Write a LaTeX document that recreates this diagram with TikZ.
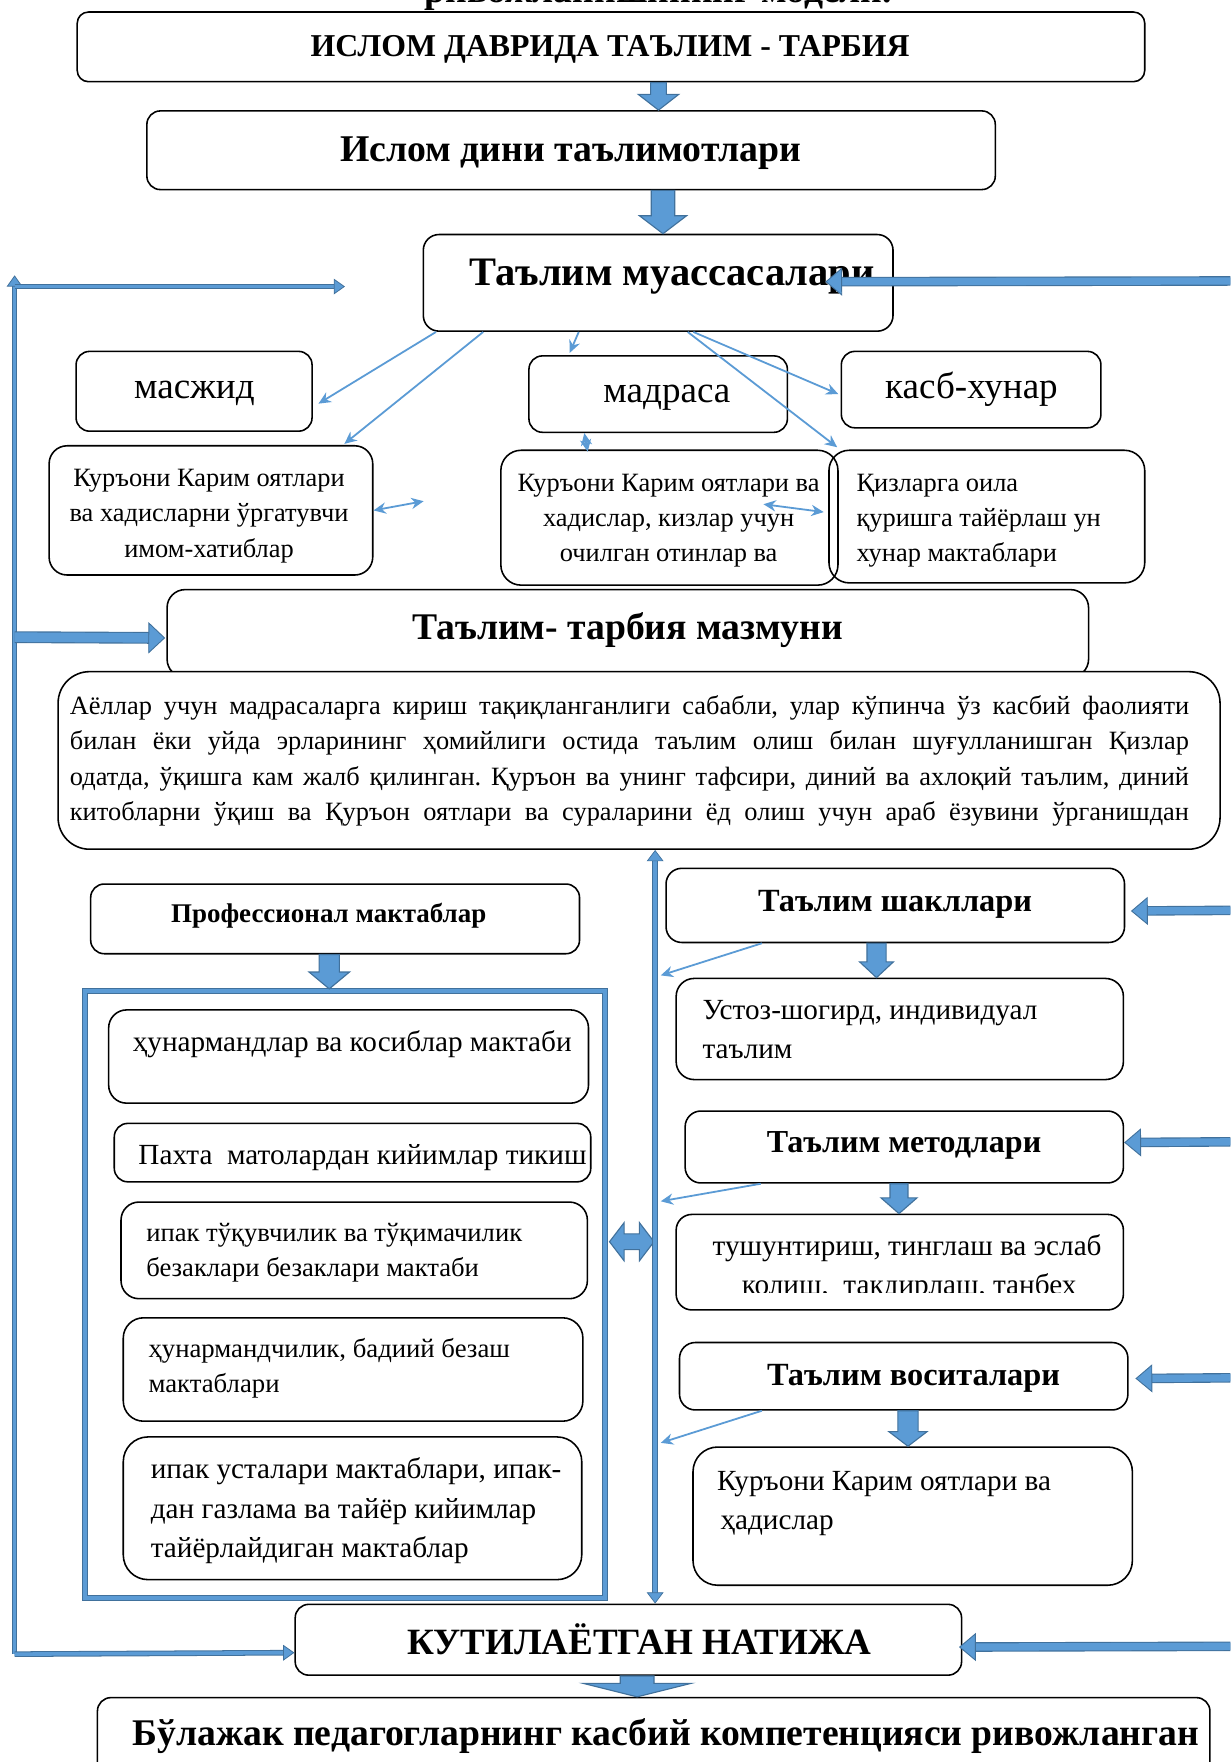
\documentclass[tikz,border=0pt]{standalone}
\usepackage{fontspec}
\setmainfont{Liberation Serif}
\usetikzlibrary{arrows.meta,calc}
\definecolor{lb}{HTML}{5B9BD5}
\definecolor{db}{HTML}{41719C}
\newcommand\setfs[2]{\fontsize{#1}{#2}\selectfont}
\newcommand\blkdown[5]{%
  \draw[blk] let \p1=#1, \p2=#2 in
    (\x1-#3,\y1) -- (\x1+#3,\y1) -- (\x1+#3,\y2+#5) -- (\x1+#4,\y2+#5) -- (\x1,\y2)
    -- (\x1-#4,\y2+#5) -- (\x1-#3,\y2+#5) -- cycle;}
\newcommand\blkdbl[5]{%
  \draw[blk] let \p1=#1, \p2=#2 in
    (\x1,\y1) -- (\x1+#5,\y1+#4) -- (\x1+#5,\y1+#3) -- (\x2-#5,\y1+#3) -- (\x2-#5,\y1+#4)
    -- (\x2,\y1) -- (\x2-#5,\y1-#4) -- (\x2-#5,\y1-#3) -- (\x1+#5,\y1-#3) -- (\x1+#5,\y1-#4) -- cycle;}
\begin{document}
\begin{tikzpicture}[x=1pt,y=-1pt,
  box/.style={draw, line width=1.4pt, rounded corners=#1, fill=white, inner sep=0pt, anchor=north west},
  box/.default=12pt,
  frame/.style={draw=lb, line width=3.4pt, preaction={draw=db, line width=5.4pt}, inner sep=0pt, anchor=north west},
  tx/.style={inner sep=0pt, anchor=base},
  txc/.style={inner sep=0pt, anchor=base, align=center},
  txl/.style={inner sep=0pt, anchor=base west, align=left},
  blk/.style={fill=lb, draw=db, line width=1pt, line join=miter},
  thin/.style={draw=lb, line width=1.6pt, -{Stealth[length=11pt,width=10pt]}},
  thinboth/.style={draw=lb, line width=1.6pt, {Stealth[length=11pt,width=10pt]}-{Stealth[length=11pt,width=10pt]}},
  lframe/.style={draw=lb, line width=3.2pt, preaction={draw=db, line width=5pt, arrows=-, shorten >=6pt},
     -{Triangle[width=14pt,length=10pt,color=db,fill=lb,line width=0.7pt]}},
  lbig/.style={draw=lb, line width=8.5pt, preaction={draw=db, line width=10.5pt, arrows=-, shorten >=8pt},
     -{Triangle[width=28pt,length=15pt,color=db,fill=lb,line width=0.8pt]}},
  rbig/.style={draw=lb, line width=6.5pt, preaction={draw=db, line width=8.5pt, arrows=-, shorten >=8pt},
     -{Triangle[width=25pt,length=15pt,color=db,fill=lb,line width=0.8pt]}},
  cvert/.style={draw=lb, line width=4pt, preaction={draw=db, line width=5.6pt, arrows=-, shorten >=6pt, shorten <=6pt},
     {Triangle[width=15pt,length=10pt,color=db,fill=lb,line width=0.6pt]}-{Triangle[width=15pt,length=10pt,color=db,fill=lb,line width=0.6pt]}},
  hb/.style={font=\bfseries\setfs{#1}{#1}},
  hr/.style={font=\setfs{#1}{#1}}
]
\useasboundingbox (0,0) rectangle (1095,1568);
\clip (0,0) rectangle (1095,1568);

% ---------- coordinates ----------
\coordinate (xAB) at (586,0);
\coordinate (xBC) at (590,0);
\coordinate (xPF) at (293,0);
\coordinate (xSU) at (780,0);
\coordinate (xMT) at (800,0);
\coordinate (xVQ) at (808,0);
\coordinate (xKL) at (567,0);
\coordinate (vx) at (583,0);
\coordinate (yDB) at (0,1105);
\coordinate (LT) at (13,245);
\coordinate (LH) at (13,255);
\coordinate (LHe) at (307,255);
\coordinate (LM) at (13,567);
\coordinate (LB) at (13,1472);
\coordinate (rC) at (1112,250);
\coordinate (rS) at (1112,810);
\coordinate (rM) at (1112,1016);
\coordinate (rV) at (1112,1226);
\coordinate (rK) at (1112,1465);
\coordinate (q1free) at (377,446);

% ---------- boxes ----------
\node[box=10pt, minimum width=950pt, minimum height=62pt] (A) at (68,10) {};
\node[box, minimum width=755pt, minimum height=70pt] (B) at (130,98) {};
\node[box=14pt, minimum width=418pt, minimum height=86pt] (C) at (376,208) {};
\node[box, minimum width=210pt, minimum height=71pt] (Mas) at (67,312) {};
\node[box, minimum width=230pt, minimum height=68pt] (Mad) at (470,316) {};
\node[box, minimum width=231pt, minimum height=68pt] (Kasb) at (748,312) {};
\node[box=16pt, minimum width=288pt, minimum height=115pt] (Q1) at (43,396) {};
\node[box=18pt, minimum width=281pt, minimum height=118pt] (Qiz) at (737,400) {};
\node[box=18pt, fill=none, minimum width=300pt, minimum height=120pt] (Q2) at (445,400) {};
\node[box=16pt, minimum width=820pt, minimum height=78pt] (D) at (148,524) {};
\node[box=28pt, minimum width=1034pt, minimum height=158pt] (E) at (51,597) {};
\node[box, minimum width=435pt, minimum height=62pt] (Prof) at (80,786) {};
\node[frame, minimum width=463pt, minimum height=540pt] (F) at (74,880) {};
\node[box=16pt, minimum width=427pt, minimum height=83pt] (I1) at (96,898) {};
\node[box=12pt, minimum width=424pt, minimum height=52pt] (I2) at (101,999) {};
\node[box=16pt, minimum width=415pt, minimum height=86pt] (I3) at (107,1069) {};
\node[box=18pt, minimum width=409pt, minimum height=92pt] (I4) at (109,1172) {};
\node[box=22pt, minimum width=408pt, minimum height=127pt] (I5) at (109,1278) {};
\node[box=14pt, minimum width=408pt, minimum height=66pt] (Shakl) at (592,772) {};
\node[box=16pt, minimum width=398pt, minimum height=90pt] (Ust) at (601,870) {};
\node[box=14pt, minimum width=390pt, minimum height=64pt] (Met) at (609,988) {};
\node[box=14pt, minimum width=398pt, minimum height=85pt] (Tush) at (601,1080) {};
\node[box=14pt, minimum width=399pt, minimum height=60pt] (Vos) at (604,1194) {};
\node[box=22pt, minimum width=391pt, minimum height=123pt] (Q3) at (616,1287) {};
\node[box, minimum width=593pt, minimum height=63pt] (K) at (262,1427) {};
\node[box, minimum width=990pt, minimum height=80pt] (Last) at (86,1510) {};

% ---------- texts (multi-line nodes: base = last line) ----------
\node[tx, hb=33.5] (T0) at (586,2) {ривожланишининг модели.};
\node[tx, hb=28.3] (tA) at (543,50) {ИСЛОМ ДАВРИДА ТАЪЛИМ - ТАРБИЯ};
\node[tx, hb=33.6] (tB) at (508,144) {Ислом дини таълимотлари};
\node[tx, hb=36] (tC) at (598,254) {Таълим муассасалари};
\node[tx, hr=33] (tMas) at (173,355) {масжид};
\node[tx, hr=33] (tMad) at (593.5,358) {мадраса};
\node[tx, hr=33] (tKasb) at (864.5,355) {касб-хунар};
\node[txc, font=\setfs{23.5}{31.5}] (tQ1) at (186,496) {Куръони Карим оятлари\\ва хадисларни ўргатувчи\\имом-хатиблар};
\node[txc, font=\setfs{23.5}{31.5}] (tQ2) at (595,500) {Куръони Карим оятлари ва\\хадислар, кизлар учун\\очилган отинлар ва};
\node[txl, font=\setfs{23.5}{31.5}] (tQiz) at (762,500) {Қизларга оила\\қуришга тайёрлаш ун\\хунар мактаблари};
\node[tx, hb=33.5] (tD) at (558.5,569) {Таълим- тарбия мазмуни};
\node[txl, font=\setfs{23.5}{31.3}\frenchspacing] (tE) at (62,730) {%
\makebox[996pt][s]{Аёллар учун мадрасаларга кириш тақиқланганлиги сабабли, улар кўпинча ўз касбий фаолияти}\\
\makebox[996pt][s]{билан ёки уйда эрларининг ҳомийлиги остида таълим олиш билан шуғулланишган Қизлар}\\
\makebox[996pt][s]{одатда, ўқишга кам жалб қилинган. Қуръон ва унинг тафсири, диний ва ахлоқий таълим, диний}\\
\makebox[996pt][s]{китобларни ўқиш ва Қуръон оятлари ва сураларини ёд олиш учун араб ёзувини ўрганишдан}};
\node[tx, hb=24] (tProf) at (292.5,821) {Профессионал мактаблар};
\node[txl, font=\setfs{26}{35}] (tI1) at (118,936) {ҳунармандлар ва косиблар мактаби};
\node[txl, font=\setfs{26}{35}] (tI2) at (123,1036) {Пахта\ \ матолардан кийимлар тикиш};
\node[txl, font=\setfs{23.7}{31}] (tI3) at (130,1136) {ипак тўқувчилик ва тўқимачилик\\безаклари безаклари мактаби};
\node[txl, font=\setfs{23.8}{31}] (tI4) at (132,1239) {ҳунармандчилик, бадиий безаш\\мактаблари};
\node[txl, font=\setfs{26}{35}] (tI5) at (134,1386) {ипак усталари мактаблари, ипак-\\дан газлама ва тайёр кийимлар\\тайёрлайдиган мактаблар};
\node[tx, hb=28.8] (tShakl) at (796.5,811) {Таълим шакллари};
\node[txl, font=\setfs{26}{35}] (tUst) at (625,942) {Устоз-шогирд, индивидуал\\таълим};
\node[tx, hb=28.5] (tMet) at (804.5,1026) {Таълим методлари};
\begin{scope}
\clip (601,1080) rectangle (999,1150);
\node[txl, font=\setfs{26}{35}] (tTush) at (634,1152) {тушунтириш, тинглаш ва эслаб\\\hspace*{26pt}колиш,\ \ такдирлаш, танбех};
\end{scope}
\node[tx, hb=28.8] (tVos) at (813,1233) {Таълим воситалари};
\node[txl, font=\setfs{26}{35}] (tQ3) at (638,1361) {Куръони Карим оятлари ва\\\hspace*{3pt}ҳадислар};
\node[tx, hb=33] (tK) at (569,1472) {КУТИЛАЁТГАН НАТИЖА};
\node[tx, hb=33.5] (tLast) at (592.5,1553) {Бўлажак педагогларнинг касбий компетенцияси ривожланган};

% ---------- block arrows ----------
\blkdown{(A.south -| xAB)}{(B.north -| xAB)}{7pt}{18pt}{14pt}
\blkdown{(B.south -| xBC)}{(C.north -| xBC)}{10.5pt}{21pt}{16pt}
\blkdown{(Prof.south -| xPF)}{(F.north -| xPF)}{9pt}{18pt}{15pt}
\blkdown{(Shakl.south -| xSU)}{(Ust.north -| xSU)}{8.5pt}{15pt}{14pt}
\blkdown{(Met.south -| xMT)}{(Tush.north -| xMT)}{8pt}{16pt}{14pt}
\blkdown{(Vos.south -| xVQ)}{(Q3.north -| xVQ)}{9pt}{17pt}{13pt}
\blkdown{(K.south -| xKL)}{(Last.north -| xKL)}{15pt}{48pt}{12pt}
\blkdbl{($(F.east |- yDB)+(2,0)$)}{($(vx |- yDB)+(-1,0)$)}{7pt}{17pt}{13pt}

% ---------- thick line arrows ----------
\draw[lframe] (LB) -- (LT);
\draw[lframe] (LH) -- (LHe);
\draw[lbig] (LM) -- ($(D.west)+(-1,4)$);
\draw[lframe] (LB) -- ($(K.west)+(0,11.5)$);
\draw[rbig] (rC) -- ($(C.east)+(-61,-1)$);
\draw[rbig] (rS) -- ($(Shakl.east)+(5,5)$);
\draw[rbig] (rM) -- ($(Met.east)+(0,-4)$);
\draw[rbig] (rV) -- ($(Vos.east)+(6,2)$);
\draw[rbig] (rK) -- ($(K.east)+(-3,6.5)$);
\draw[cvert] (E.south -| vx) -- (K.north -| vx);

% ---------- thin arrows ----------
\draw[thin] ($(C.south west)+(12,0)$) -- ($(Mas.east)+(5,11)$);
\draw[thin] ($(C.south west)+(54,0)$) -- ($(Q1.north east)+(-26,-1)$);
\draw[thin] ($(C.south west)+(139,0)$) -- ($(Mad.north west)+(37,-2)$);
\draw[thin] ($(C.south west)+(241,0)$) -- ($(Kasb.west)+(-2,4)$);
\draw[thin] ($(C.south west)+(236,0)$) -- ($(Qiz.north west)+(8,-2)$);
\draw[thinboth] (Q1.east) -- (q1free);
\draw[thinboth] ($(Mad.south west)+(50,0)$) -- ($(Q2.north west)+(78,2)$);
\draw[thinboth] ($(Q2.east)+(-67,-12)$) -- ($(Qiz.west)+(-4,-4)$);
\draw[thin] ($(Shakl.south west)+(86,0)$) -- ($(Ust.north -| vx)+(5,-2)$);
\draw[thin] ($(Met.south west)+(68,0)$) -- ($(Tush.north -| vx)+(5,-11)$);
\draw[thin] ($(Vos.south west)+(74,0)$) -- ($(Q3.north -| vx)+(5,-3)$);
\end{tikzpicture}
\end{document}
